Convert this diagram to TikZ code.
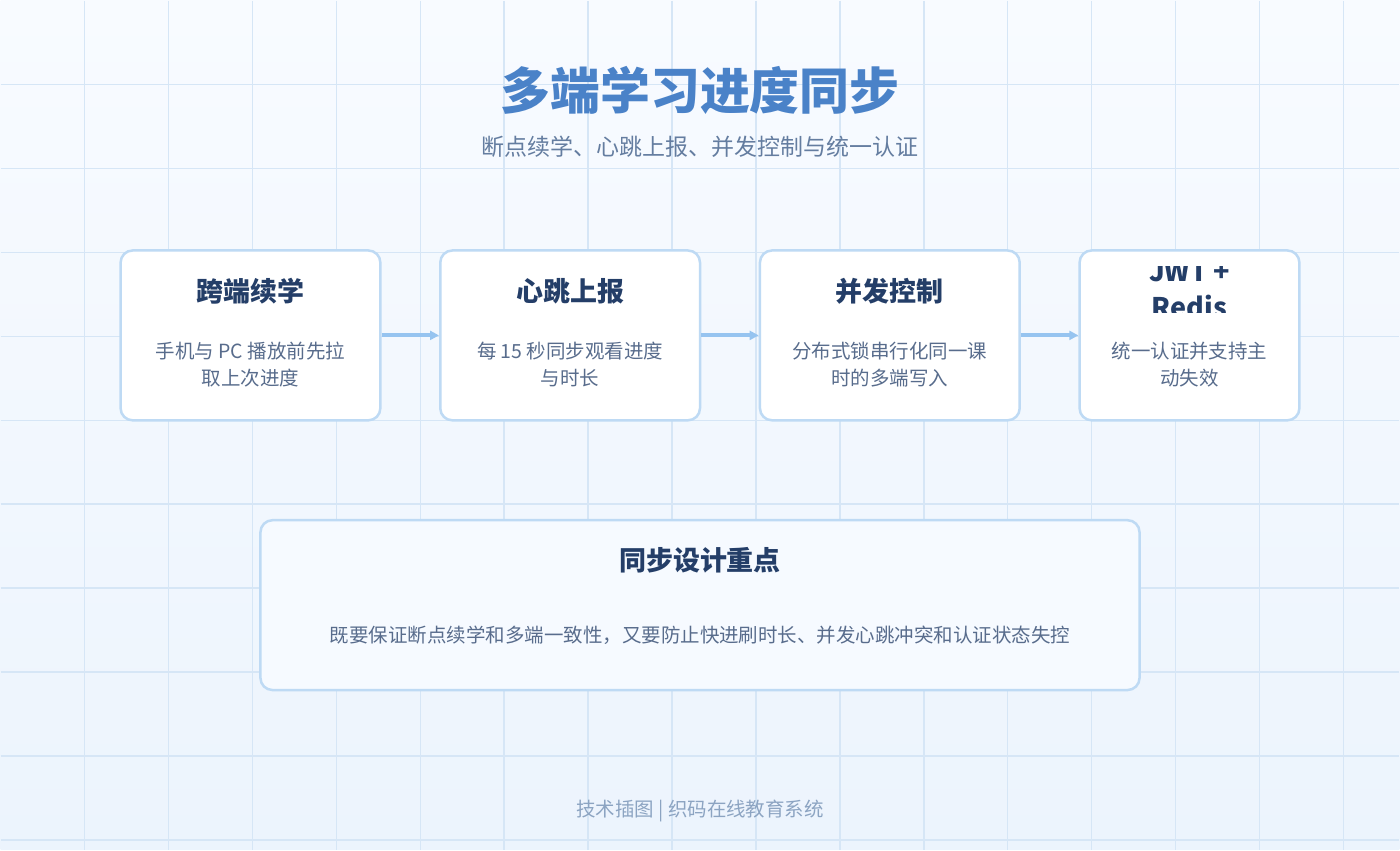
\documentclass[tikz,border=0pt]{standalone}
\usepackage{fontspec}
\setmainfont{Noto Sans CJK SC}
\usetikzlibrary{positioning, arrows.meta}
\definecolor{gridline}{RGB}{214,230,246}
\definecolor{bgtop}{RGB}{248,251,255}
\definecolor{bgbot}{RGB}{236,244,253}
\definecolor{boxline}{RGB}{190,218,244}
\definecolor{titleblue}{RGB}{74,130,200}
\definecolor{subgrey}{RGB}{100,125,160}
\definecolor{navy}{RGB}{36,62,104}
\definecolor{bodygrey}{RGB}{88,108,140}
\definecolor{arrowblue}{RGB}{150,196,240}
\definecolor{footgrey}{RGB}{140,164,194}
\definecolor{notefill}{RGB}{246,250,255}

\begin{document}
\begin{tikzpicture}[x=1pt,y=-1pt,
		step card/.style={draw=boxline,line width=2.5pt,fill=white,rounded corners=12pt,
			minimum width=260pt,minimum height=170pt,inner sep=0pt},
		card title/.style={font=\bfseries\fontsize{27}{32}\selectfont,text=navy},
		card text/.style={font=\fontsize{19.5}{27}\selectfont,text=bodygrey,align=center},
		flow/.style={-{Triangle[length=9pt,width=9pt]},draw=arrowblue,line width=4pt}]
		% background
		\shade[top color=bgtop,bottom color=bgbot] (0,0) rectangle (1400,850);
		\foreach \gx in {84,168,...,1344} \draw[gridline,line width=1.5pt] (\gx,0) -- (\gx,850);
		\foreach \gy in {84,168,...,840} \draw[gridline,line width=1.5pt] (0,\gy) -- (1400,\gy);
		\useasboundingbox (0,0) rectangle (1400,850);
		
		\node[font=\bfseries\fontsize{50}{56}\selectfont,text=titleblue] (title) at (700,90) {多端学习进度同步};
		\node[font=\fontsize{23}{28}\selectfont,text=subgrey] (sub) at (700,146) {断点续学、心跳上报、并发控制与统一认证};
		
		\node[step card] (resume) at (250,335) {};
		\node[step card] (beat) at (570,335) {};
		\node[step card] (lock) at (890,335) {};
		\node[step card,minimum width=220pt] (auth) at (1190,335) {};
		
		\node[card title] at (250,291) {跨端续学};
		\node[card text] at (250,364) {手机与 PC 播放前先拉\\取上次进度};
		\node[card title] at (570,291) {心跳上报};
		\node[card text] at (570,364) {每 15 秒同步观看进度\\与时长};
		\node[card title] at (890,291) {并发控制};
		\node[card text] at (890,364) {分布式锁串行化同一课\\时的多端写入};
		\begin{scope}
			\clip (1090,266) rectangle (1290,312);
			\node[card title,align=center,font=\bfseries\fontsize{27}{36}\selectfont] at (1190,289) {JWT +\\Redis};
		\end{scope}
		\node[card text] at (1190,364) {统一认证并支持主\\动失效};
		
		\draw[flow] (resume) -- (beat);
		\draw[flow] (beat) -- (lock);
		\draw[flow] (lock) -- (auth);
		
		\node[draw=boxline,line width=2.5pt,fill=notefill,rounded corners=12pt,
			minimum width=880pt,minimum height=170pt] (note) at (700,605) {};
		\node[card title] at (700,560) {同步设计重点};
		\node[font=\fontsize{19.5}{24}\selectfont,text=bodygrey] at (700,635) {既要保证断点续学和多端一致性，又要防止快进刷时长、并发心跳冲突和认证状态失控};
		
		\node[font=\fontsize{19.5}{24}\selectfont,text=footgrey] (foot) at (700,811) {技术插图 | 织码在线教育系统};
\end{tikzpicture}
\end{document}
